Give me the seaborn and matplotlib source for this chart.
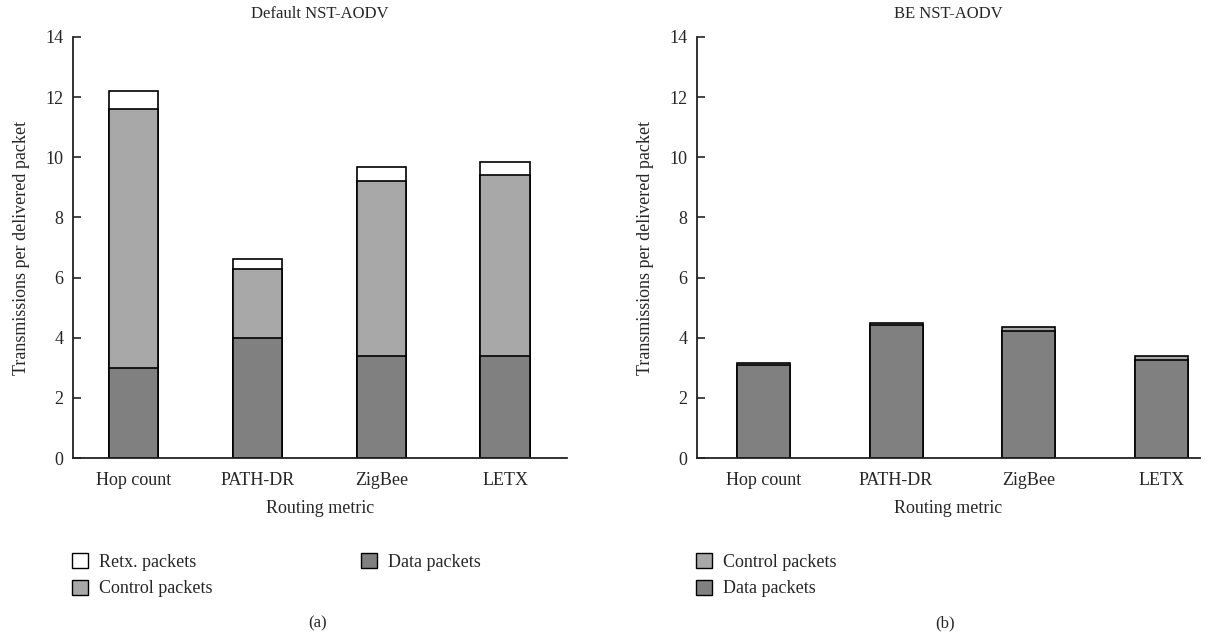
import matplotlib
matplotlib.use("Agg")
import matplotlib.pyplot as plt
from matplotlib.patches import Patch
import seaborn as sns
import pandas as pd

# data
metrics = ["Hop count", "PATH-DR", "ZigBee", "LETX"]

# (a) Default NST-AODV
data_a = [3.0, 4.0, 3.4, 3.4]
control_a = [8.6, 2.3, 5.8, 6.0]
retx_a = [0.6, 0.32, 0.46, 0.44]

# (b) BE NST-AODV
data_b = [3.1, 4.42, 4.22, 3.25]
control_b = [0.07, 0.07, 0.12, 0.13]

c_data = "#808080"
c_control = "#a8a8a8"
c_retx = "#ffffff"

sns.set_style("ticks")
plt.rcParams["font.family"] = ["Liberation Serif", "DejaVu Serif"]
plt.rcParams["font.size"] = 13

fig = plt.figure(figsize=(12.29, 6.42), dpi=100)
ax_a = fig.add_axes([0.0594, 0.2866, 0.402, 0.6558])
ax_b = fig.add_axes([0.5671, 0.2866, 0.4093, 0.6558])


def stacked(ax, layers, xlim):
    # draw cumulative totals from the top layer down so lower layers cover them
    cum = []
    run = [0.0] * len(metrics)
    for vals, col in layers:
        run = [r + v for r, v in zip(run, vals)]
        cum.append((list(run), col))
    for tot, col in reversed(cum):
        df = pd.DataFrame({"metric": metrics, "value": tot})
        sns.barplot(data=df, x="metric", y="value", color=col, width=0.4,
                    edgecolor="black", linewidth=1.2, saturation=1, ax=ax)
    ax.set_ylim(0, 14)
    ax.set_yticks(range(0, 15, 2))
    ax.set_xlim(*xlim)
    ax.set_xlabel("Routing metric", fontsize=13, labelpad=8)
    ax.set_ylabel("Transmissions per delivered packet", fontsize=13, labelpad=11)
    ax.tick_params(axis="y", direction="in", length=6, width=1.2, labelsize=13, pad=7)
    ax.tick_params(axis="x", length=0, labelsize=13, pad=10)
    sns.despine(ax=ax)
    for s in ("left", "bottom"):
        ax.spines[s].set_linewidth(1.3)
        ax.spines[s].set_color("#222222")


stacked(ax_a, [(data_a, c_data), (control_a, c_control), (retx_a, c_retx)], (-0.49, 3.5))
stacked(ax_b, [(data_b, c_data), (control_b, c_control)], (-0.5, 3.29))

ax_a.set_title("Default NST-AODV", fontsize=12, pad=14)
ax_b.set_title("BE NST-AODV", fontsize=12, pad=14)

def patch(col):
    return Patch(facecolor=col, edgecolor="black", linewidth=1.0)

leg_kw = dict(frameon=False, fontsize=13, handlelength=0.9, handleheight=0.9,
              handletextpad=0.6, labelspacing=0.5, borderaxespad=0, borderpad=0)
fig.legend([patch(c_retx), patch(c_control), patch(c_data)],
           ["Retx. packets", "Control packets", "Data packets"],
           ncol=2, columnspacing=8.2, loc="upper left",
           bbox_to_anchor=(72 / 1229, 1 - 553 / 642), **leg_kw)
fig.legend([patch(c_control), patch(c_data)],
           ["Control packets", "Data packets"],
           ncol=1, loc="upper left",
           bbox_to_anchor=(696 / 1229, 1 - 553 / 642), **leg_kw)

fig.text(318 / 1229, 1 - 623 / 642, "(a)", ha="center", va="center", fontsize=12)
fig.text(945 / 1229, 1 - 623 / 642, "(b)", ha="center", va="center", fontsize=12)

fig.savefig("out.png", dpi=100)
